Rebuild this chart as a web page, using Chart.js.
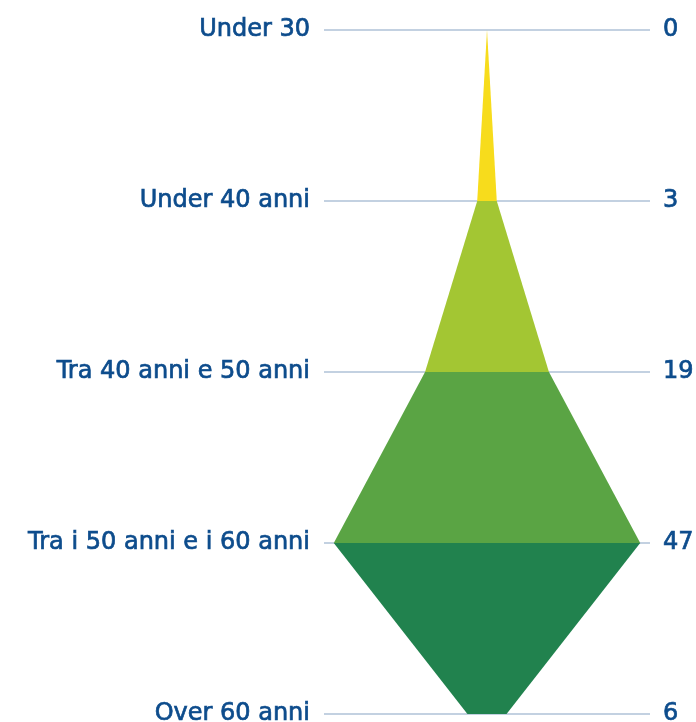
<!DOCTYPE html>
<html>
<head>
<meta charset="utf-8">
<script src="https://cdn.jsdelivr.net/npm/chart.js@4/dist/chart.umd.min.js"></script>
<style>
  html, body { margin: 0; padding: 0; background: #fff; }
  #wrap { width: 696px; height: 722px; }
</style>
</head>
<body>
<div id="wrap"><canvas id="funnelChart"></canvas></div>
<script>
const categories = ['Under 30', 'Under 40 anni', 'Tra 40 anni e 50 anni', 'Tra i 50 anni e i 60 anni', 'Over 60 anni'];
const values = [0, 3, 19, 47, 6];
const valueLabels = ['0', '3', '19', '47', '6'];
const bandColors = ['#f7dc1c', '#a3c633', '#5aa444', '#21824e'];

const textColor = '#0d4c8c';
const gridColor = '#c3d1e1';
const labelFont = { family: 'DejaVu Sans', size: 24 };

// keep the tick labels from pushing the plot area in
const noLabelPadding = s => { s.paddingTop = 0; s.paddingBottom = 0; };

const ctx = document.getElementById('funnelChart').getContext('2d');
new Chart(ctx, {
    type: 'line',
    data: {
        labels: categories,
        datasets: [
            {
                label: 'right',
                data: values,
                fill: '+1',
                borderWidth: 0,
                pointRadius: 0,
                tension: 0,
                segment: {
                    backgroundColor: c => bandColors[c.p0DataIndex]
                }
            },
            {
                label: 'left',
                data: values.map(v => -v),
                fill: false,
                borderWidth: 0,
                pointRadius: 0,
                tension: 0
            }
        ]
    },
    options: {
        indexAxis: 'y',
        responsive: true,
        maintainAspectRatio: false,
        animation: false,
        layout: { padding: { top: 30, bottom: 8, left: 0, right: 0 } },
        plugins: {
            legend: { display: false },
            tooltip: { enabled: false }
        },
        scales: {
            x: {
                type: 'linear',
                min: -50,
                max: 50,
                display: false
            },
            y: {
                type: 'category',
                position: 'left',
                offset: false,
                border: { display: false },
                grid: { color: gridColor, lineWidth: 2, drawTicks: false },
                ticks: { color: textColor, padding: 14, font: labelFont, textStrokeColor: textColor, textStrokeWidth: 0.7 },
                afterFit: s => { s.width = 324; noLabelPadding(s); }
            },
            y2: {
                type: 'category',
                position: 'right',
                labels: valueLabels,
                offset: false,
                border: { display: false },
                grid: { display: false, drawTicks: false },
                ticks: { color: textColor, padding: 13, font: labelFont, textStrokeColor: textColor, textStrokeWidth: 0.7 },
                afterFit: s => { s.width = 46; noLabelPadding(s); }
            }
        }
    }
});
</script>
</body>
</html>
